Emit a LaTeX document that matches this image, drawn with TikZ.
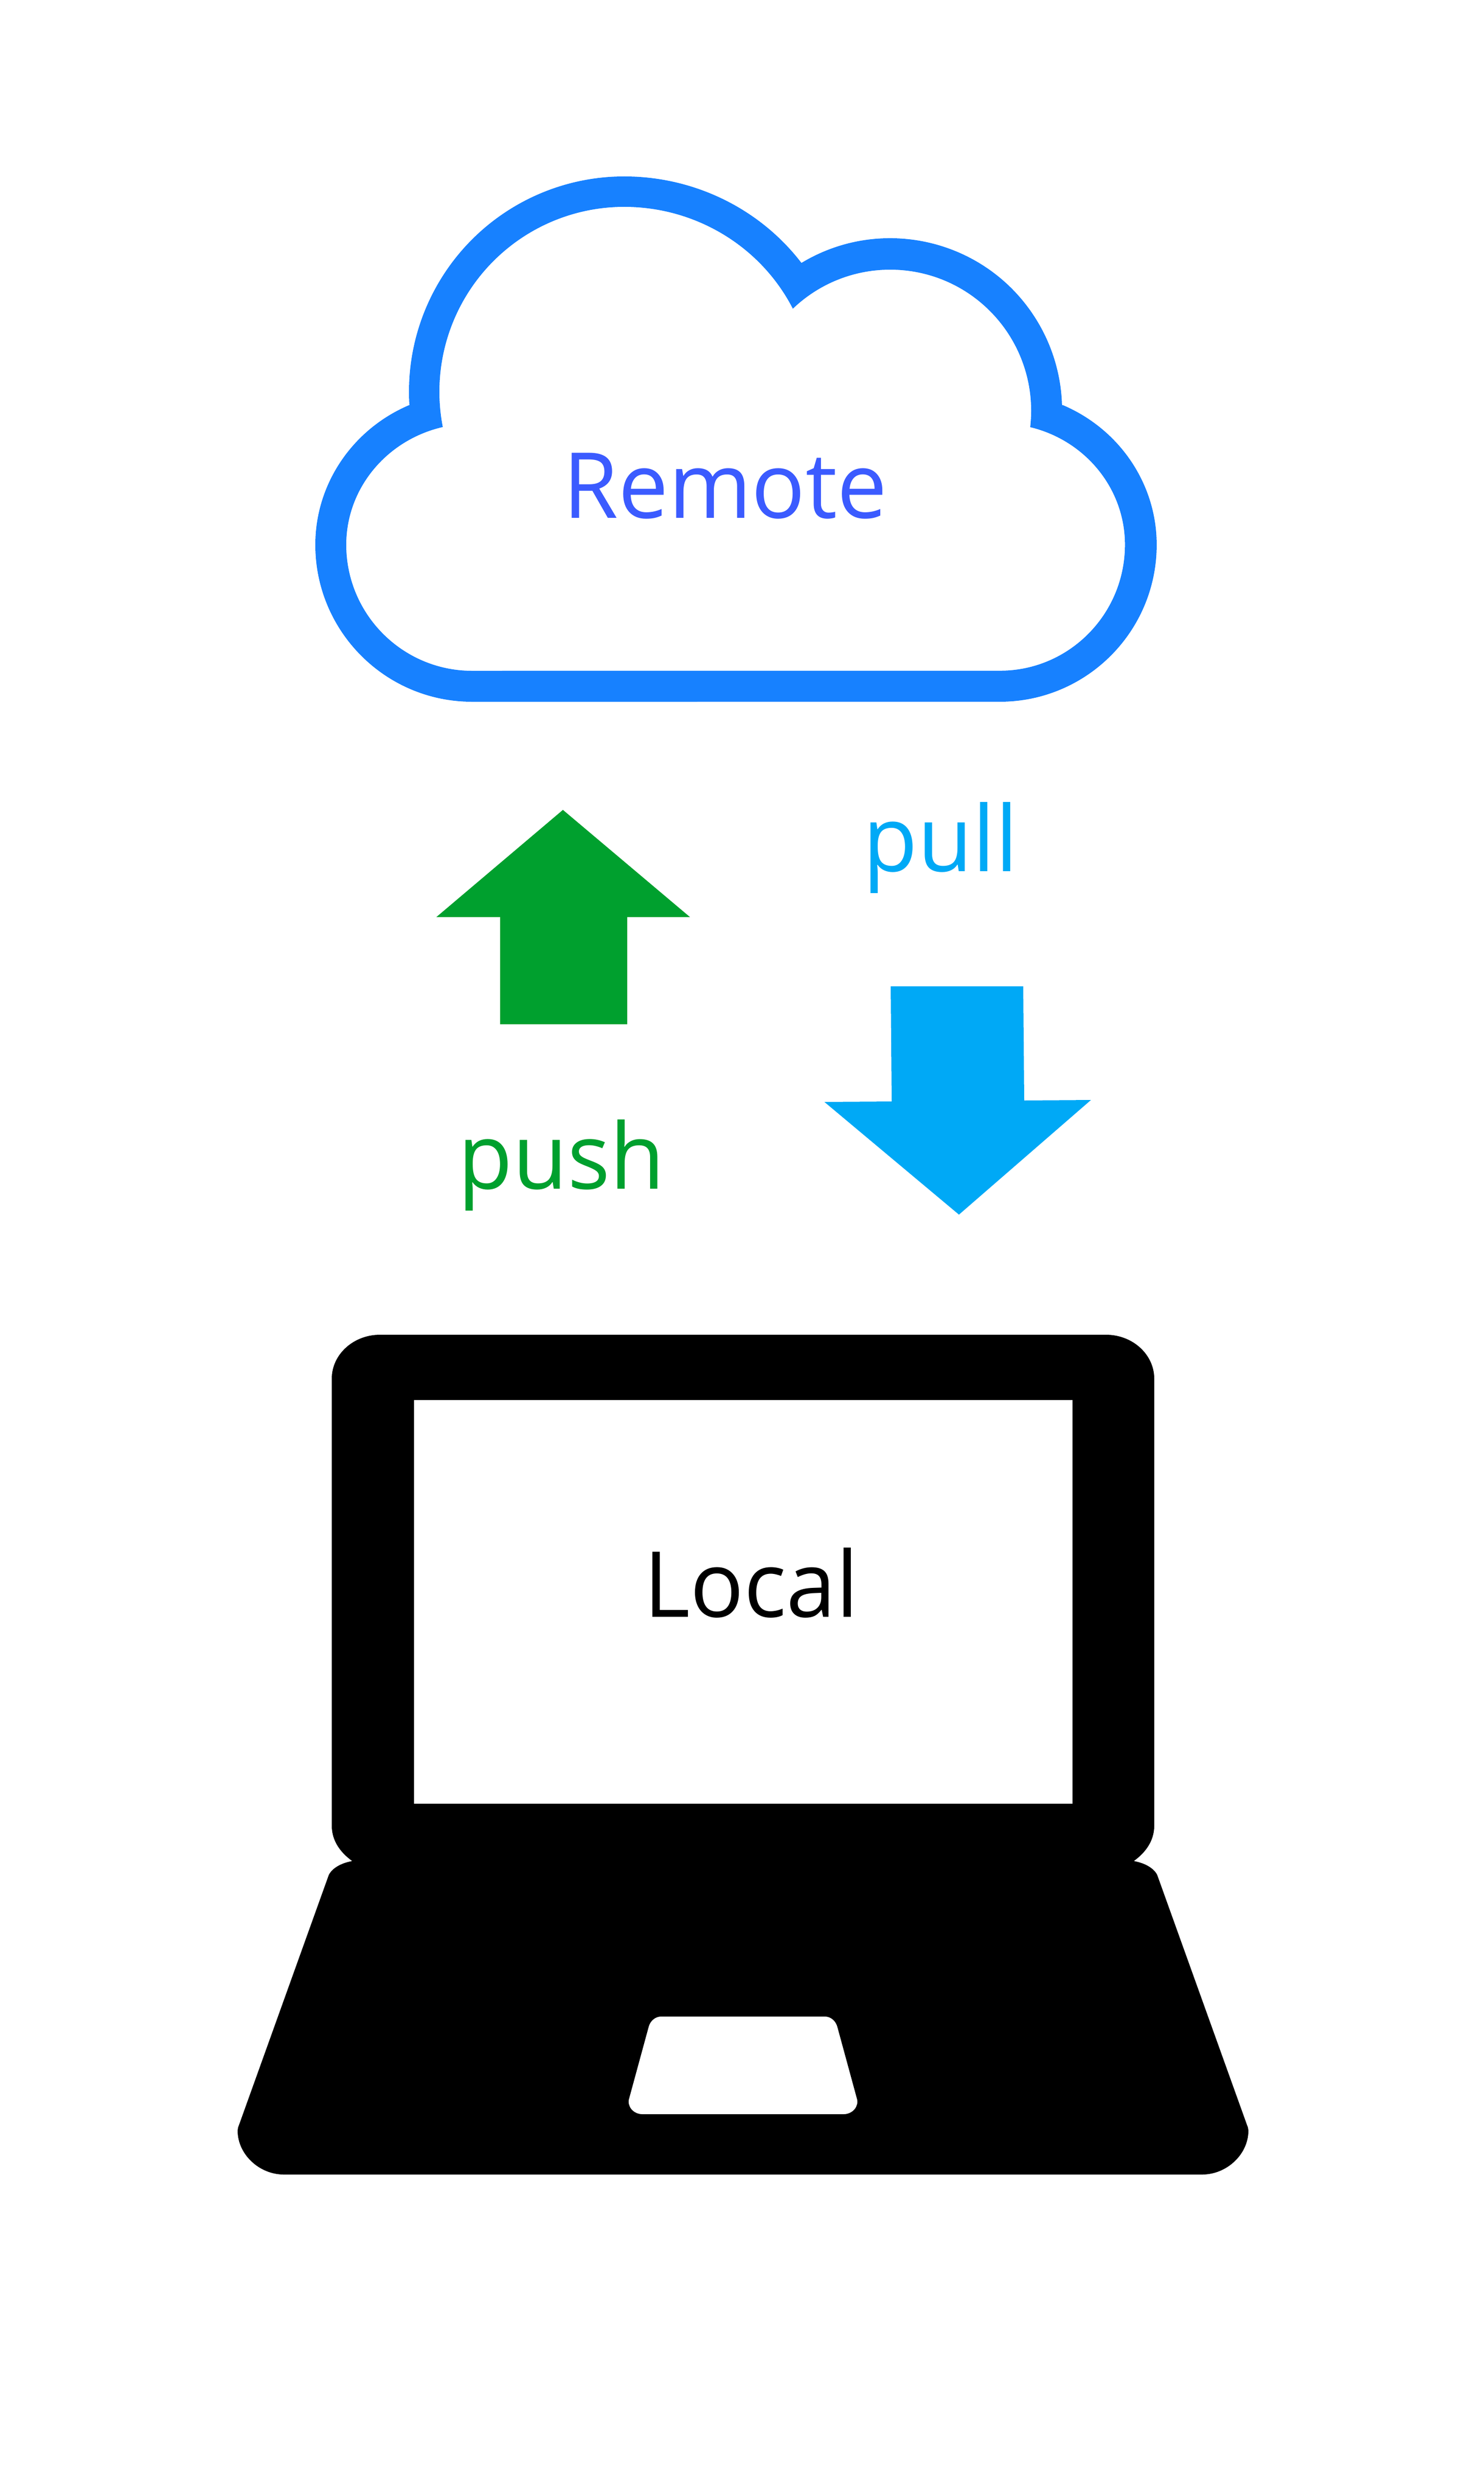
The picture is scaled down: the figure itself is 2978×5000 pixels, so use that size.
\documentclass[tikz,border=0pt]{standalone}
\usepackage{fontspec}
\newfontfamily\lblfont[FakeStretch=0.98]{Open Sans}
\definecolor{cloudblue}{HTML}{1781FF}
\definecolor{remoteblue}{HTML}{3B5BFF}
\definecolor{pushgreen}{HTML}{00A02E}
\definecolor{pullblue}{HTML}{00A9F6}
\tikzset{
  lbl/.style={inner sep=0pt,outer sep=0pt,anchor=base,font=\lblfont\fontsize{52}{60}\selectfont},
}
\begin{document}
\begin{tikzpicture}[x=0.01cm,y=0.01cm]
\useasboundingbox (0,0) rectangle (2978,-5000);
\fill[white] (0,0) rectangle (2978,-5000);
% cloud
\fill[cloudblue,even odd rule]
  (948,-1408) arc[start angle=270,end angle=180,radius=315]
  arc[start angle=180,end angle=113.8,x radius=315,y radius=306]
  -- ([shift={(1253,-786)}]183.6:432) arc[start angle=183.6,end angle=90,radius=432]
  arc[start angle=90,end angle=36.7,x radius=444,y radius=432]
  -- ([shift={(1787,-823)}]121.1:345) arc[start angle=121.1,end angle=1.7,radius=345]
  -- (2134,-813) arc[start angle=66.2,end angle=0,x radius=315,y radius=306]
  arc[start angle=0,end angle=-90,radius=315] -- cycle
  (948,-1346) arc[start angle=270,end angle=180,radius=253]
  arc[start angle=180,end angle=103.5,x radius=253,y radius=243]
  -- ([shift={(1253,-786)}]191:371) arc[start angle=191,end angle=90,radius=371]
  arc[start angle=90,end angle=26.6,x radius=379,y radius=371]
  -- ([shift={(1787,-824)}]133.7:283) arc[start angle=133.7,end angle=-6.7,radius=283]
  -- (2068,-857) arc[start angle=76,end angle=0,x radius=251,y radius=243]
  arc[start angle=0,end angle=-90,x radius=251,y radius=253] -- cycle;
\node[lbl,text=remoteblue] (remote) at (1456,-1039) {Remote};
% arrows
\fill[pushgreen] (1130,-1625) -- (1385,-1840) -- (1259,-1840) -- (1259,-2055) -- (1004,-2055) -- (1004,-1840) -- (876,-1840) -- cycle;
\node[lbl,text=pushgreen] (push) at (1127,-2385) {push};
\fill[pullblue] (1788,-1979) -- (2054,-1979) -- (2056,-2208) -- (2190,-2207) -- (1925,-2437) -- (1655,-2211) -- (1790,-2210) -- cycle;
\node[lbl,text=pullblue] (pull) at (1888,-1748) {pull};
% laptop
\fill[black,even odd rule]
  (763,-2678) -- (2220,-2678) .. controls (2274,-2678) and (2317,-2718) .. (2317,-2766)
  -- (2317,-3663) .. controls (2317,-3695) and (2298,-3718) .. (2276,-3734)
  .. controls (2298,-3738) and (2316,-3748) .. (2323,-3762)
  -- (2503,-4263) .. controls (2505,-4268) and (2506,-4271) .. (2506,-4275)
  .. controls (2506,-4322) and (2463,-4363) .. (2413,-4363)
  -- (570,-4363) .. controls (520,-4363) and (477,-4322) .. (477,-4275)
  .. controls (477,-4271) and (478,-4268) .. (480,-4263)
  -- (660,-3762) .. controls (667,-3748) and (685,-3738) .. (707,-3734)
  .. controls (685,-3718) and (666,-3695) .. (666,-3663)
  -- (666,-2766) .. controls (666,-2718) and (709,-2678) .. (763,-2678) -- cycle
  (831,-2809) rectangle (2153,-3619)
  (1327,-4046) -- (1656,-4046) .. controls (1668,-4046) and (1678,-4055) .. (1681,-4067)
  -- (1720,-4210) .. controls (1725,-4226) and (1712,-4242) .. (1693,-4242)
  -- (1290,-4242) .. controls (1271,-4242) and (1258,-4226) .. (1263,-4210)
  -- (1302,-4067) .. controls (1305,-4055) and (1315,-4046) .. (1327,-4046) -- cycle;
\node[lbl,text=black] (local) at (1508,-3244) {Local};
\end{tikzpicture}
\end{document}
